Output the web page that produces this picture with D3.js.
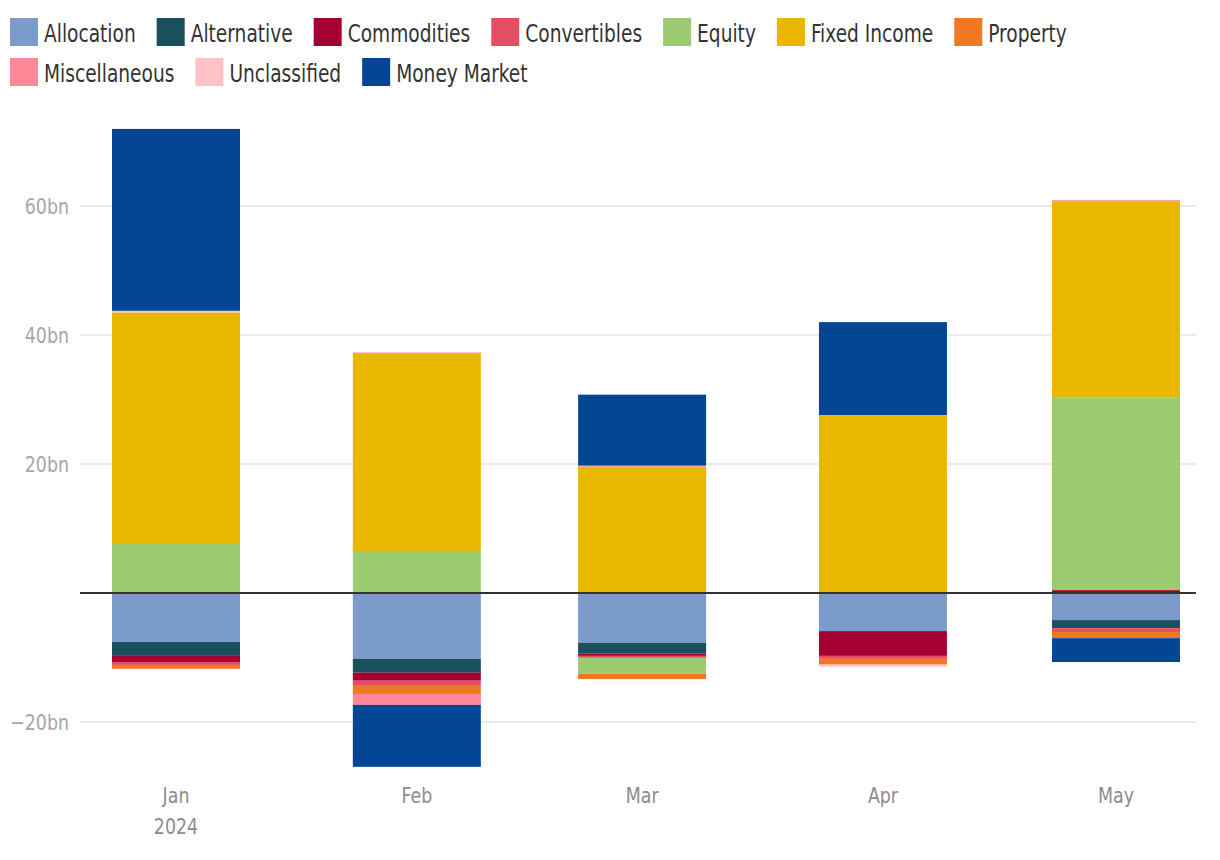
<!DOCTYPE html>
<html>
<head>
<meta charset="utf-8">
<script src="https://cdn.jsdelivr.net/npm/d3@7"></script>
<style>
  html, body { margin: 0; padding: 0; background: #fff; }
  svg text { font-family: "Liberation Sans Narrow", "DejaVu Sans Condensed", "Roboto Condensed", "Liberation Sans", sans-serif; }
</style>
</head>
<body>
<svg id="chart" width="1220" height="860"></svg>
<script>
const months = ["2024-01-01", "2024-02-01", "2024-03-01", "2024-04-01", "2024-05-01"];
const seriesNames = ["Allocation", "Alternative", "Commodities", "Convertibles", "Equity", "Fixed Income", "Property", "Miscellaneous", "Unclassified", "Money Market"];
const seriesColors = ["#7b9bcb", "#1a4f5c", "#a50034", "#e44e63", "#9dcb72", "#e9b600", "#f07822", "#ff8899", "#ffc0c8", "#034694"];

const allocation   = [-7.6, -10.2, -7.75, -5.9, -4.2];
const alternative  = [-2.15, -2.15, -1.65, -0.15, -1.25];
const commodities  = [-0.95, -1.25, -0.35, -3.7, 0.45];
const convertibles = [-0.45, -0.8, -0.3, -0.45, -0.6];
const equity       = [7.6, 6.5, -2.5, 0, 29.9];
const fixedIncome  = [35.9, 30.7, 19.6, 27.6, 30.3];
const property     = [-0.6, -1.25, -0.8, -0.9, -0.95];
const miscellaneous= [0, -1.7, 0.15, 0, 0.25];
const unclassified = [0.25, 0.15, 0, -0.3, 0];
const moneyMarket  = [28.2, -9.6, 11.0, 14.4, -3.7];

const yTicks = [-20, 20, 40, 60];
const yTickLabels = ["\u221220bn", "20bn", "40bn", "60bn"];
const xTickLabels = [["Jan", "2024"], ["Feb"], ["Mar"], ["Apr"], ["May"]];

const parse = d3.timeParse("%Y-%m-%d");
const dates = months.map(parse);
const seriesValues = [allocation, alternative, commodities, convertibles, equity, fixedIncome, property, miscellaneous, unclassified, moneyMarket];
const table = dates.map((m, i) => {
  const row = { date: m };
  seriesNames.forEach((s, j) => row[s] = seriesValues[j][i]);
  return row;
});

const svg = d3.select("#chart");
const gridX0 = 80, gridX1 = 1196;
const barW = 128;
const hScale = 0.88;
const legScale = 0.862;

const x = d3.scaleTime().domain([dates[0], dates[dates.length - 1]]).range([176, 1116]);
const y = d3.scaleLinear().domain([-20, 60]).range([722, 206]);

// gridlines
svg.append("g").selectAll("line").data(yTicks).join("line")
  .attr("x1", gridX0).attr("x2", gridX1)
  .attr("y1", d => y(d)).attr("y2", d => y(d))
  .attr("stroke", "#e3e3e3").attr("stroke-width", 1.5);

// y labels
svg.append("g").selectAll("text").data(yTicks).join("text")
  .attr("transform", d => `translate(69,${y(d)}) scale(${hScale},1)`)
  .attr("dy", "0.35em")
  .attr("text-anchor", "end")
  .attr("fill", "#a6a6a6").attr("font-size", 22)
  .text((d, i) => yTickLabels[i]);

// stacked bars
const stack = d3.stack().keys(seriesNames).offset(d3.stackOffsetDiverging);
const stacked = stack(table);
const color = d3.scaleOrdinal().domain(seriesNames).range(seriesColors);

svg.append("g").selectAll("g").data(stacked).join("g")
  .attr("fill", d => color(d.key))
  .selectAll("rect").data(d => d).join("rect")
  .attr("x", d => x(d.data.date) - barW / 2)
  .attr("width", barW)
  .attr("y", d => y(Math.max(d[0], d[1])))
  .attr("height", d => Math.abs(y(d[0]) - y(d[1])));

// zero line
svg.append("line")
  .attr("x1", gridX0).attr("x2", gridX1)
  .attr("y1", y(0)).attr("y2", y(0))
  .attr("stroke", "#333").attr("stroke-width", 2);

// x axis labels
const xl = svg.append("g");
dates.forEach((d, i) => {
  xTickLabels[i].forEach((lab, k) => {
    xl.append("text")
      .attr("transform", `translate(${x(d)},${803 + k * 31}) scale(${hScale},1)`)
      .attr("text-anchor", "middle").attr("fill", "#8c8c8c").attr("font-size", 22)
      .text(lab);
  });
});

// legend
const legendRows = [seriesNames.slice(0, 7), seriesNames.slice(7)];
legendRows.forEach((row, r) => {
  let cx = 10;
  const gy = 18 + r * 40;
  row.forEach(name => {
    const g = svg.append("g");
    g.append("rect").attr("x", cx).attr("y", gy).attr("width", 28).attr("height", 28).attr("fill", color(name));
    const t = g.append("text")
      .attr("transform", `translate(${cx + 34},${gy + 24}) scale(${legScale},1)`)
      .attr("font-size", 24).attr("fill", "#333").text(name);
    cx += 34 + t.node().getComputedTextLength() * legScale + 21;
  });
});
</script>
</body>
</html>
